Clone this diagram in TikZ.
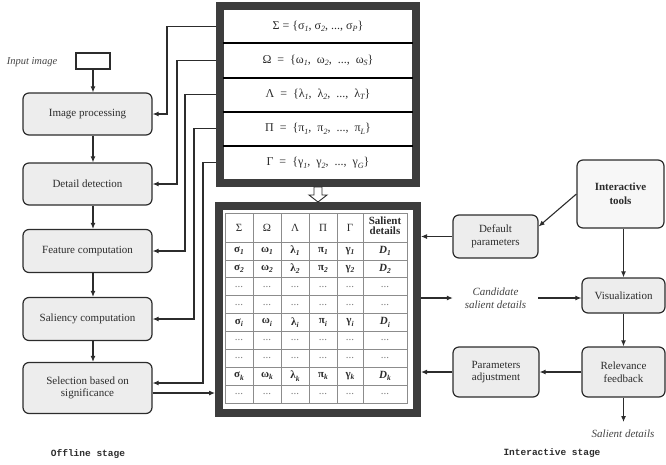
\documentclass[tikz,border=0pt]{standalone}
\usepackage{fontspec}
\setmainfont{Liberation Serif}
\newfontfamily\monofont{Liberation Mono}
\usetikzlibrary{arrows.meta,matrix}

% small subscripts for the set elements
\newcommand\lo[1]{\raisebox{-0.45ex}{\fontsize{8}{9}\selectfont\itshape #1}}
\newcommand\blo[1]{\raisebox{-0.45ex}{\fontsize{7.5}{8}\selectfont\bfseries\itshape #1}}
\newcommand\salhead{\begin{tabular}{@{}c@{}}Salient\\[-2pt]details\end{tabular}}
\newcommand\gap{\hspace{6pt}}
\newcommand\dd{\textcolor{gray}{...}}

\definecolor{ink}{HTML}{2C2C2C}
\definecolor{boxgray}{HTML}{EDEDED}
\definecolor{toolfill}{HTML}{F7F7F7}
\definecolor{framegray}{HTML}{3D3D3D}
\definecolor{gridgray}{HTML}{8C8C8C}
\definecolor{softink}{HTML}{444444}

\begin{document}
\begin{tikzpicture}[x=1pt,y=-1pt,
  every node/.style={font=\fontsize{11}{12.5}\selectfont, text=ink},
  proc/.style={draw=ink, line width=1.2pt, rounded corners=6pt, fill=boxgray,
    align=center, inner sep=2pt},
  arr/.style={draw=ink, line width=1.1pt, -{Latex[length=6pt,width=5pt]}},
  frame/.style={draw=framegray, line width=8pt, fill=white, inner sep=0pt},
  setrow/.style={minimum width=190pt, minimum height=34.2pt, inner sep=0pt,
    font=\fontsize{12}{14}\selectfont},
  sepline/.style={draw=black, line width=2pt},
  cell/.style={draw=gridgray, line width=0.6pt, inner sep=0pt, outer sep=0pt,
    minimum height=17.9pt, anchor=center, font=\fontsize{11}{12}\selectfont},
  note/.style={font=\fontsize{11}{12.5}\selectfont\itshape, text=softink, align=center},
  stage/.style={font=\monofont\fontsize{9.5}{11}\selectfont\bfseries},
  hollow/.style={draw=ink, line width=0.9pt, fill=white}
]
\useasboundingbox (0,0) rectangle (666,464);

% ---------- offline pipeline ----------
\node[draw=ink, line width=1.1pt, minimum width=34pt, minimum height=16pt, inner sep=0pt] (input) at (93,61) {};
\node[note, font=\fontsize{10.5}{12}\selectfont\itshape] (inlabel) at (32,62) {Input image};

\node[proc, minimum width=129pt, minimum height=42pt] (ip)  at (87.5,114) {Image processing};
\node[proc, minimum width=129pt, minimum height=42pt] (dd)  at (87.5,184) {Detail detection};
\node[proc, minimum width=129pt, minimum height=43pt] (fc)  at (87.5,251) {Feature computation};
\node[proc, minimum width=129pt, minimum height=43pt] (sc)  at (87.5,319) {Saliency computation};
\node[proc, minimum width=129pt, minimum height=51pt] (sel) at (87.5,388) {Selection based on\\significance};

\draw[arr] (input.south) -- (input.south |- ip.north);
\draw[arr] (ip.south -| input) -- (dd.north -| input);
\draw[arr] (dd.south -| input) -- (fc.north -| input);
\draw[arr] (fc.south -| input) -- (sc.north -| input);
\draw[arr] (sc.south -| input) -- (sel.north -| input);

% ---------- parameter sets ----------
\node[frame, minimum width=196pt, minimum height=177pt] (top) at (318,94.5) {};
\node[setrow] (rS) at (318,26.1)  {Σ = \{σ\lo{1}, σ\lo{2}, ..., σ\lo{P}\}};
\node[setrow] (rO) at (318,60.3)  {Ω\gap=\gap\{ω\lo{1},\gap ω\lo{2},\gap ...,\gap ω\lo{S}\}};
\node[setrow] (rL) at (318,94.5)  {Λ\gap=\gap\{λ\lo{1},\gap λ\lo{2},\gap ...,\gap λ\lo{T}\}};
\node[setrow] (rP) at (318,128.7) {Π\gap=\gap\{π\lo{1},\gap π\lo{2},\gap ...,\gap π\lo{L}\}};
\node[setrow] (rG) at (318,162.9) {Γ\gap=\gap\{γ\lo{1},\gap γ\lo{2},\gap ...,\gap γ\lo{G}\}};
\draw[sepline] (rS.south west) -- (rS.south east);
\draw[sepline] (rO.south west) -- (rO.south east);
\draw[sepline] (rL.south west) -- (rL.south east);
\draw[sepline] (rP.south west) -- (rP.south east);

% sets feeding the processing steps
\draw[arr] (rS.west -| top.west) -- ++(-49,0) |- (ip.east);
\draw[arr] (rO.west -| top.west) -- ++(-39,0) |- (dd.east);
\draw[arr] (rL.west -| top.west) -- ++(-31,0) |- (fc.east);
\draw[arr] (rP.west -| top.west) -- ++(-22,0) |- (sc.east);
\draw[arr] (rG.west -| top.west) -- ++(-13,0) |- ([yshift=5pt]sel.east);

% ---------- salient detail table ----------
\node[frame, minimum width=198pt, minimum height=207pt] (bot) at (318,309.5) {};
\matrix (tab) at (316,308) [matrix of nodes, nodes={cell},
  column sep=-0.6pt, row sep=-0.6pt,
  column 1/.style={nodes={minimum width=28pt}},
  column 2/.style={nodes={minimum width=28pt}},
  column 3/.style={nodes={minimum width=28pt}},
  column 4/.style={nodes={minimum width=28pt}},
  column 5/.style={nodes={minimum width=26pt}},
  column 6/.style={nodes={minimum width=44pt}},
  row 1/.style={nodes={minimum height=29pt}}]
{
  Σ & Ω & Λ & Π & Γ & |[font=\fontsize{11}{12}\selectfont\bfseries]| \salhead \\
  \textbf{σ}\blo{1} & \textbf{ω}\blo{1} & \textbf{λ}\blo{1} & \textbf{π}\blo{1} & \textbf{γ}\blo{1} & \textbf{\textit{D}}\blo{1} \\
  \textbf{σ}\blo{2} & \textbf{ω}\blo{2} & \textbf{λ}\blo{2} & \textbf{π}\blo{2} & \textbf{γ}\blo{2} & \textbf{\textit{D}}\blo{2} \\
  \dd & \dd & \dd & \dd & \dd & \dd \\
  \dd & \dd & \dd & \dd & \dd & \dd \\
  \textbf{σ}\blo{i} & \textbf{ω}\blo{i} & \textbf{λ}\blo{i} & \textbf{π}\blo{i} & \textbf{γ}\blo{i} & \textbf{\textit{D}}\blo{i} \\
  \dd & \dd & \dd & \dd & \dd & \dd \\
  \dd & \dd & \dd & \dd & \dd & \dd \\
  \textbf{σ}\blo{k} & \textbf{ω}\blo{k} & \textbf{λ}\blo{k} & \textbf{π}\blo{k} & \textbf{γ}\blo{k} & \textbf{\textit{D}}\blo{k} \\
  \dd & \dd & \dd & \dd & \dd & \dd \\
};

% hollow arrow from the sets down to the table
\draw[hollow] (top.south) ++(-4,0) -- ++(0,8) -- ++(-5,0) -- (bot.north)
  -- ++(9,-7) -- ++(-5,0) -- ++(0,-8) -- cycle;

% selected details go into the table
\path ([yshift=-5pt]sel.east) coordinate (selout);
\draw[arr] (selout) -- (selout -| bot.west);

% ---------- interactive stage ----------
\node[proc, fill=toolfill, font=\fontsize{11}{14}\selectfont\bfseries,
  minimum width=87pt, minimum height=68pt] (tools) at (620.5,194) {Interactive\\tools};
\node[proc, minimum width=85pt, minimum height=43pt] (defp) at (495.5,236.5) {Default\\parameters};
\node[proc, minimum width=83pt, minimum height=35pt] (vis)  at (623.5,295.5) {Visualization};
\node[proc, minimum width=83pt, minimum height=50pt] (rel)  at (623.5,372) {Relevance\\feedback};
\node[proc, minimum width=86pt, minimum height=50pt] (padj) at (496,372) {Parameters\\adjustment};
\node[note, minimum width=85pt, inner sep=0pt] (cand) at (495.5,298) {Candidate\\salient details};
\coordinate (salout) at (623.5,422);
\node[note] (salient) at (623,434) {Salient details};

\draw[arr] (tools.west) -- ([yshift=10pt]defp.east);
\draw[arr] (tools.south -| vis) -- (vis.north);
\draw[arr] (defp.west) -- (defp.west -| bot.east);
\draw[arr] (bot.east |- cand) -- (cand.west);
\draw[arr] (cand.east) -- (cand.east -| vis.west);
\draw[arr] (vis.south) -- (rel.north);
\draw[arr] (rel.west) -- (padj.east);
\draw[arr] (padj.west) -- (padj.west -| bot.east);
\draw[arr] (rel.south) -- (salout);

% ---------- stage captions ----------
\node[stage] (offl) at (88,454) {Offline stage};
\node[stage] (inter) at (552,453) {Interactive stage};
\end{tikzpicture}
\end{document}
